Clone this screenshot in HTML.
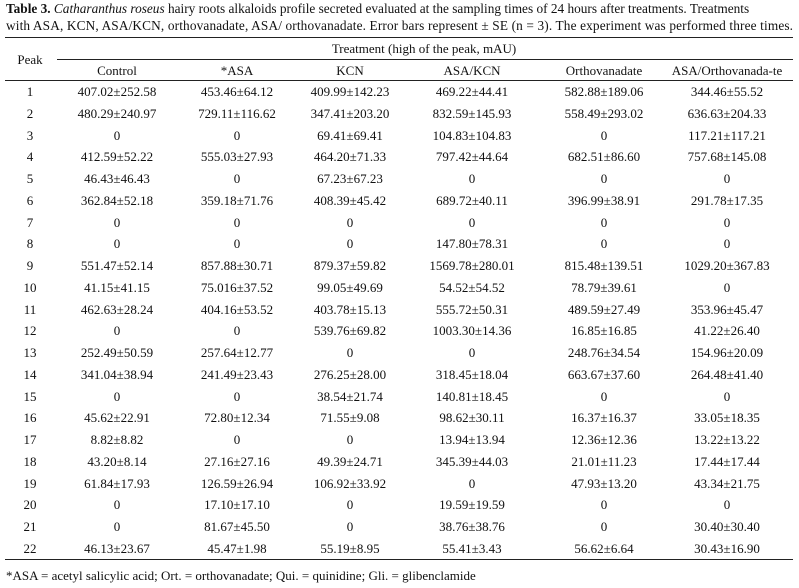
<!DOCTYPE html>
<html><head><meta charset="utf-8"><style>
body{margin:0;width:799px;height:588px;background:#fff;font-family:"Liberation Serif",serif;color:#111;position:relative;overflow:hidden}
.cap{position:absolute;left:6px;font-size:13.3px;white-space:nowrap;line-height:16px}
.rule{position:absolute;background:#222;height:1.3px}
.t{position:absolute;font-size:13px;transform:translateX(-50%);white-space:nowrap;line-height:16px}
</style></head><body>
<div class="cap" style="top:1px"><b>Table 3.</b> <i>Catharanthus roseus</i> hairy roots alkaloids profile secreted evaluated at the sampling times of 24 hours after treatments. Treatments</div>
<div class="cap" style="top:18px;letter-spacing:0.14px">with ASA, KCN, ASA/KCN, orthovanadate, ASA/ orthovanadate. Error bars represent ± SE (n = 3). The experiment was performed three times.</div>
<div class="rule" style="top:37px;left:5px;width:788px"></div>
<div class="rule" style="top:59px;left:57px;width:736px"></div>
<div class="rule" style="top:80px;left:5px;width:788px"></div>
<div class="rule" style="top:559px;left:5px;width:788px"></div>
<div class="t" style="left:30px;top:52px">Peak</div>
<div class="t" style="left:424px;top:41px">Treatment (high of the peak, mAU)</div>
<div id="tb"></div>
<div class="cap" style="top:568px;font-size:13px">*ASA = acetyl salicylic acid; Ort. = orthovanadate; Qui. = quinidine; Gli. = glibenclamide</div>
<script>
const cols=["Control","*ASA","KCN","ASA/KCN","Orthovanadate","ASA/Orthovanada-te"];
const rows=[
["407.02±252.58","453.46±64.12","409.99±142.23","469.22±44.41","582.88±189.06","344.46±55.52"],
["480.29±240.97","729.11±116.62","347.41±203.20","832.59±145.93","558.49±293.02","636.63±204.33"],
["0","0","69.41±69.41","104.83±104.83","0","117.21±117.21"],
["412.59±52.22","555.03±27.93","464.20±71.33","797.42±44.64","682.51±86.60","757.68±145.08"],
["46.43±46.43","0","67.23±67.23","0","0","0"],
["362.84±52.18","359.18±71.76","408.39±45.42","689.72±40.11","396.99±38.91","291.78±17.35"],
["0","0","0","0","0","0"],
["0","0","0","147.80±78.31","0","0"],
["551.47±52.14","857.88±30.71","879.37±59.82","1569.78±280.01","815.48±139.51","1029.20±367.83"],
["41.15±41.15","75.016±37.52","99.05±49.69","54.52±54.52","78.79±39.61","0"],
["462.63±28.24","404.16±53.52","403.78±15.13","555.72±50.31","489.59±27.49","353.96±45.47"],
["0","0","539.76±69.82","1003.30±14.36","16.85±16.85","41.22±26.40"],
["252.49±50.59","257.64±12.77","0","0","248.76±34.54","154.96±20.09"],
["341.04±38.94","241.49±23.43","276.25±28.00","318.45±18.04","663.67±37.60","264.48±41.40"],
["0","0","38.54±21.74","140.81±18.45","0","0"],
["45.62±22.91","72.80±12.34","71.55±9.08","98.62±30.11","16.37±16.37","33.05±18.35"],
["8.82±8.82","0","0","13.94±13.94","12.36±12.36","13.22±13.22"],
["43.20±8.14","27.16±27.16","49.39±24.71","345.39±44.03","21.01±11.23","17.44±17.44"],
["61.84±17.93","126.59±26.94","106.92±33.92","0","47.93±13.20","43.34±21.75"],
["0","17.10±17.10","0","19.59±19.59","0","0"],
["0","81.67±45.50","0","38.76±38.76","0","30.40±30.40"],
["46.13±23.67","45.47±1.98","55.19±8.95","55.41±3.43","56.62±6.64","30.43±16.90"]];
const cx=[117,237,350,472,604,727];
const tb=document.getElementById('tb');
function add(txt,x,y,name){const d=document.createElement('div');d.className='t';d.textContent=txt;d.style.left=x+'px';d.style.top=y+'px';


tb.appendChild(d);}
cols.forEach((c,i)=>add(c,cx[i],63,'column-header'));
rows.forEach((r,i)=>{const y=84+i*21.76;add(String(i+1),30,y,'peak-number');r.forEach((v,j)=>add(v,cx[j],y,'cell-value'));});
</script>
</body></html>
